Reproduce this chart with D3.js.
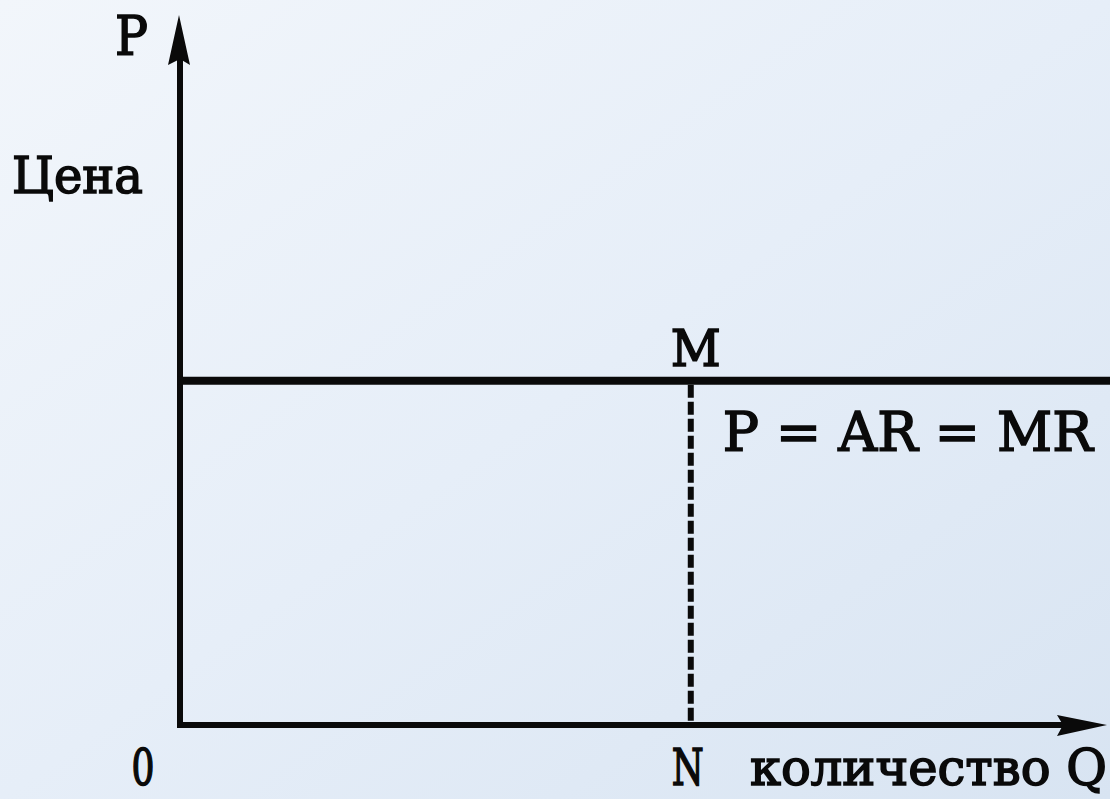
<!DOCTYPE html>
<html>
<head>
<meta charset="utf-8">
<script src="https://cdn.jsdelivr.net/npm/d3@7"></script>
<style>
  html, body { margin: 0; padding: 0; background: #e6eef8; }
  svg { display: block; }
</style>
</head>
<body>
<svg id="chart" width="1110" height="799"></svg>
<script>
// ---- data ----
const axisDomainX = [0, 100];          // quantity Q (arbitrary units)
const axisDomainY = [0, 100];          // price P (arbitrary units)
const priceLevel = [48.5];             // P = AR = MR level (point M)
const outputN = [55.1];                // quantity N
const axisLabelsY = ["P", "Цена"];
const axisLabelsX = ["0", "N", "количество Q"];
const pointLabels = ["M"];
const curveLabels = ["P = AR = MR"];

const W = 1110, H = 799;
const svg = d3.select("#chart");

// background gradient
const defs = svg.append("defs");
const grad = defs.append("linearGradient").attr("id", "bg")
  .attr("x1", "0").attr("y1", "0").attr("x2", "1").attr("y2", "1");
grad.append("stop").attr("offset", "0").attr("stop-color", "#f2f6fb");
grad.append("stop").attr("offset", "0.5").attr("stop-color", "#e6eef8");
grad.append("stop").attr("offset", "1").attr("stop-color", "#d8e4f2");
svg.append("rect").attr("width", W).attr("height", H).attr("fill", "url(#bg)");

const x = d3.scaleLinear().domain(axisDomainX).range([180, 1107]);
const y = d3.scaleLinear().domain(axisDomainY).range([725, 15]);

const ink = "#0a0a0a";
const font = "'DejaVu Serif', 'Liberation Serif', serif";

// axes lines
const x0 = x(0), y0 = y(0);
svg.append("line").attr("x1", x0).attr("y1", y0 + 3).attr("x2", x0).attr("y2", y(axisDomainY[1]) + 30)
  .attr("stroke", ink).attr("stroke-width", 6);
svg.append("line").attr("x1", x0 - 3).attr("y1", y0).attr("x2", x(axisDomainX[1]) - 30).attr("y2", y0)
  .attr("stroke", ink).attr("stroke-width", 6);

// arrowheads
const ty = y(axisDomainY[1]);
svg.append("path")
  .attr("d", `M${x0 - 1},${ty} L${x0 + 10},${ty + 50} L${x0},${ty + 44} L${x0 - 12},${ty + 50} Z`)
  .attr("fill", ink);
const tx = x(axisDomainX[1]);
svg.append("path")
  .attr("d", `M${tx},${y0} L${tx - 50},${y0 - 10} L${tx - 44},${y0} L${tx - 50},${y0 + 11} Z`)
  .attr("fill", ink);

// horizontal price line P = AR = MR
svg.selectAll("line.price").data(priceLevel).enter().append("line")
  .attr("class", "price")
  .attr("x1", x0 - 3).attr("x2", W)
  .attr("y1", d => y(d)).attr("y2", d => y(d))
  .attr("stroke", ink).attr("stroke-width", 8);

// dashed vertical from M to N
svg.selectAll("line.drop").data(outputN).enter().append("line")
  .attr("class", "drop")
  .attr("x1", d => x(d)).attr("x2", d => x(d))
  .attr("y1", y(priceLevel[0]) + 4).attr("y2", y0)
  .attr("stroke", ink).attr("stroke-width", 6)
  .attr("stroke-dasharray", "13,4");

// text helper
function label(txt, px, py, size, anchor, len) {
  const t = svg.append("text").attr("x", px).attr("y", py)
    .attr("font-family", font).attr("font-size", size)
    .attr("fill", ink).attr("stroke", ink).attr("stroke-width", 1.6)
    .attr("text-anchor", anchor || "start").text(txt);
  if (len) t.attr("textLength", len).attr("lengthAdjust", "spacingAndGlyphs");
  return t;
}

label(axisLabelsY[0], x0 - 65, y(axisDomainY[1]) + 40, 54, "start", 33);
label(axisLabelsY[1], 12, 193, 50, "start", 131);
label(pointLabels[0], x(outputN[0]) + 5, y(priceLevel[0]) - 15, 50, "middle", 50);
label(curveLabels[0], x(outputN[0]) + 32, y(priceLevel[0]) + 70, 54, "start", 370);
label(axisLabelsX[0], x0 - 37, 785, 50, "middle", 23);
label(axisLabelsX[1], x(outputN[0]) - 3, 785, 50, "middle", 32);
label(axisLabelsX[2], 750, 785, 50, "start", 357);
</script>
</body>
</html>
